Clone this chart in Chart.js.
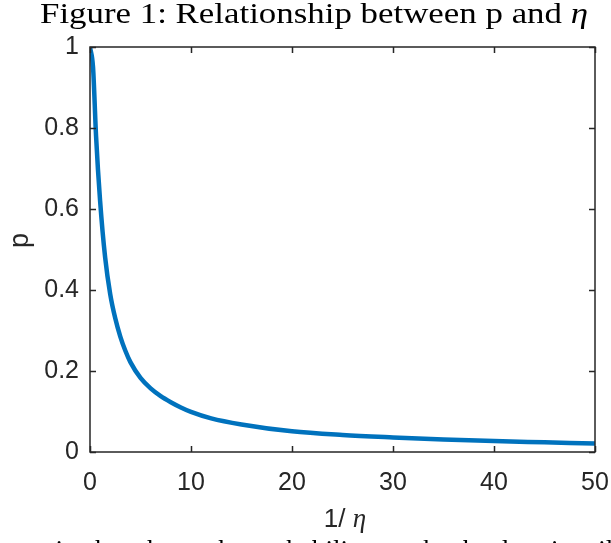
<!DOCTYPE html>
<html>
<head>
<meta charset="utf-8">
<script src="https://cdn.jsdelivr.net/npm/chart.js@4.4.1/dist/chart.umd.min.js"></script>
<style>
  html,body{margin:0;padding:0;background:#fff;}
  #wrap{position:relative;width:611px;height:543px;overflow:hidden;}
  canvas{position:absolute;left:0;top:0;}
  .txt{position:absolute;white-space:nowrap;color:#000;}
  #title{font-family:"Liberation Serif","DejaVu Serif",serif;font-size:29px;top:-3px;left:0;transform-origin:0 0;}
  #xlab{font-family:"Liberation Sans",Arial,sans-serif;font-size:26px;color:#262626;top:503px;}
  #xlab i{font-family:"Liberation Serif","DejaVu Serif",serif;font-size:27px;}
  #ylab{font-family:"Liberation Sans",Arial,sans-serif;font-size:27px;color:#262626;left:12px;top:225px;transform:rotate(-90deg);transform-origin:50% 50%;}
  #cap{font-family:"Liberation Serif","DejaVu Serif",serif;font-size:27px;top:535px;left:36px;}
</style>
</head>
<body>
<div id="wrap">
<canvas id="c" width="611" height="543"></canvas>
<div id="title" class="txt">Figure 1: Relationship between p and <i>η</i></div>
<div id="ylab" class="txt">p</div>
<div id="xlab" class="txt">1/ <i>η</i></div>
<div id="cap" class="txt">ative bar shows the probability to take the drug in willi</div>
</div>
<script>
// Values
const xValues = [0, 0.3, 0.6, 1.0, 1.5, 2, 2.5, 3, 3.5, 4, 5, 6, 7, 8, 9, 10, 12, 15, 20, 25, 30, 35, 40, 45, 50];
const pValues = [1, 0.95, 0.78, 0.62, 0.48, 0.39, 0.33, 0.285, 0.25, 0.222, 0.183, 0.157, 0.138, 0.123, 0.11, 0.099, 0.083, 0.068, 0.051, 0.042, 0.036, 0.031, 0.027, 0.024, 0.021];
const xTicks = [0, 10, 20, 30, 40, 50];
const yTicks = [0, 0.2, 0.4, 0.6, 0.8, 1];
const xTickLabels = ["0", "10", "20", "30", "40", "50"];
const yTickLabels = ["0", "0.2", "0.4", "0.6", "0.8", "1"];

const points = xValues.map((x, i) => ({x: x, y: pValues[i]}));
const axisColor = '#262626';

const boxPlugin = {
  id: 'box',
  afterDatasetsDraw(chart) {
    const {ctx, chartArea: a, scales: {x, y}} = chart;
    ctx.save();
    ctx.strokeStyle = axisColor;
    ctx.lineWidth = 1.5;
    ctx.strokeRect(a.left, a.top, a.right - a.left, a.bottom - a.top);
    const L = 6;
    ctx.beginPath();
    xTicks.forEach(v => {
      const px = Math.round(x.getPixelForValue(v)) + 0.5;
      ctx.moveTo(px, a.bottom); ctx.lineTo(px, a.bottom - L);
      ctx.moveTo(px, a.top); ctx.lineTo(px, a.top + L);
    });
    yTicks.forEach(v => {
      const py = Math.round(y.getPixelForValue(v)) + 0.5;
      ctx.moveTo(a.left, py); ctx.lineTo(a.left + L, py);
      ctx.moveTo(a.right, py); ctx.lineTo(a.right - L, py);
    });
    ctx.stroke();
    ctx.restore();
  }
};

new Chart(document.getElementById('c'), {
  type: 'scatter',
  data: {
    datasets: [{
      data: points,
      showLine: true,
      borderColor: '#0072BD',
      borderWidth: 4.5,
      pointRadius: 0,
      cubicInterpolationMode: 'monotone',
      fill: false
    }]
  },
  options: {
    responsive: false,
    animation: false,
    devicePixelRatio: 1,
    layout: {padding: {top: 47, right: 16, left: 0, bottom: 0}},
    plugins: {legend: {display: false}, tooltip: {enabled: false}, title: {display: false}},
    scales: {
      x: {
        type: 'linear', min: 0, max: 50,
        afterFit(s) { s.height = 91; s.paddingLeft = 0; s.paddingRight = 0; },
        afterBuildTicks(s) { s.ticks = xTicks.map(v => ({value: v})); },
        grid: {display: false, drawTicks: false},
        border: {display: false},
        ticks: {
          padding: 16, color: axisColor,
          font: {family: '"Liberation Sans", Arial, sans-serif', size: 25},
          callback: (v) => xTickLabels[xTicks.indexOf(v)] ?? ''
        }
      },
      y: {
        type: 'linear', min: 0, max: 1,
        afterFit(s) { s.width = 90; s.paddingTop = 0; s.paddingBottom = 0; },
        afterBuildTicks(s) { s.ticks = yTicks.map(v => ({value: v})); },
        grid: {display: false, drawTicks: false},
        border: {display: false},
        ticks: {
          padding: 11, color: axisColor,
          font: {family: '"Liberation Sans", Arial, sans-serif', size: 25},
          callback: (v) => { const i = yTicks.findIndex(t => Math.abs(t - v) < 1e-9); return i >= 0 ? yTickLabels[i] : ''; }
        }
      }
    }
  },
  plugins: [boxPlugin]
});

// fit title width to reference span
const t = document.getElementById('title');
const tw = t.getBoundingClientRect().width;
const target = 548;
t.style.transform = 'scaleX(' + (target / tw) + ')';
t.style.left = '40px';
// center x label under axis
const xl = document.getElementById('xlab');
xl.style.left = (345 - xl.getBoundingClientRect().width / 2) + 'px';
</script>
</body>
</html>
